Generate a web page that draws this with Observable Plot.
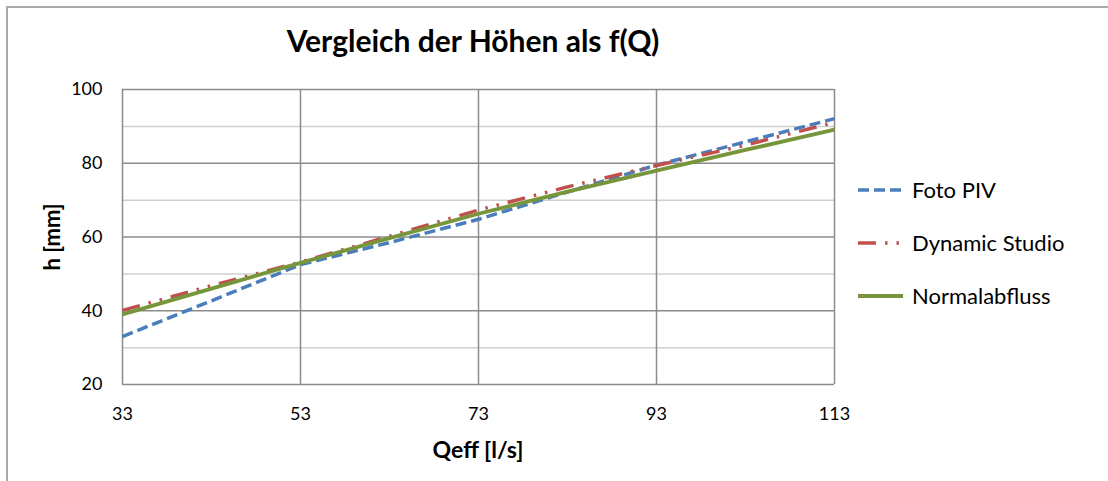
<!DOCTYPE html>
<html>
<head>
<meta charset="utf-8">
<script src="https://cdn.jsdelivr.net/npm/d3@7"></script>
<script src="https://cdn.jsdelivr.net/npm/@observablehq/plot@0.6"></script>
<style>
  html, body { margin: 0; padding: 0; background: #fff; }
  #chart { position: relative; width: 1108px; height: 481px; overflow: hidden; font-family: Lato, "Open Sans", sans-serif; color: #000; }
  #frame { position: absolute; left: 6px; top: 6px; width: 1200px; height: 600px; border-top: 2px solid #a9a9a9; border-left: 2px solid #a9a9a9; }
  #plot { position: absolute; left: 0; top: 0; }
  .title { position: absolute; left: 0; width: 946px; top: 22px; text-align: center; font-weight: bold; font-size: 30px; line-height: 36px; }
  .xlabel { position: absolute; left: 122px; width: 712px; top: 435px; text-align: center; font-weight: bold; font-size: 23px; line-height: 28px; }
  .ylabel { position: absolute; left: 51px; top: 237px; transform: translate(-50%, -50%) rotate(-90deg); font-weight: bold; font-size: 22px; white-space: nowrap; }
  .legend { position: absolute; left: 858px; top: 163px; }
  .legend .item { display: flex; align-items: center; height: 53px; font-size: 22px; }
  .legend .item svg { margin-right: 9px; }
</style>
</head>
<body>
<div id="chart">
  <div id="frame"></div>
  <div id="plot"></div>
  <div class="title">Vergleich der Höhen als f(Q)</div>
  <div class="ylabel">h [mm]</div>
  <div class="xlabel">Qeff [l/s]</div>
  <div class="legend" id="legend"></div>
</div>
<script>
// Effective discharge Q [l/s]
const q = [33, 43, 53, 63, 73, 83, 93, 103, 113];

// Water depth h [mm] per method
const fotoPIV       = [33.0, 42.7, 52.5, 58.5, 64.8, 72.2, 79.5, 85.8, 92.1];
const dynamicStudio = [40.1, 46.8, 53.2, 60.2, 67.3, 73.6, 79.4, 84.9, 91.1];
const normalabfluss = [39.0, 46.0, 53.0, 59.7, 66.3, 72.3, 78.0, 83.6, 89.1];

const seriesNames = ["Foto PIV", "Dynamic Studio", "Normalabfluss"];
const seriesValues = [fotoPIV, dynamicStudio, normalabfluss];

// Axis ticks and grid
const xTicks = [33, 53, 73, 93, 113];
const yTicks = [20, 40, 60, 80, 100];
const yMinor = [30, 50, 70, 90];

const styles = {
  "Foto PIV":       { stroke: "#4a7ebb", width: 3.5, dash: "11,5" },
  "Dynamic Studio": { stroke: "#c0504d", width: 3.5, dash: "18,9,2.5,9,2.5,9" },
  "Normalabfluss":  { stroke: "#77963c", width: 3.8, dash: null }
};

const rows = seriesNames.flatMap((name, i) =>
  q.map((x, j) => ({ series: name, q: x, h: seriesValues[i][j] }))
);

const lineMarks = seriesNames.map(name =>
  Plot.line(rows.filter(d => d.series === name), {
    x: "q", y: "h",
    stroke: styles[name].stroke,
    strokeWidth: styles[name].width,
    strokeDasharray: styles[name].dash,
    strokeLinecap: "butt",
    strokeLinejoin: "round"
  })
);

const plot = Plot.plot({
  width: 1108,
  height: 481,
  marginLeft: 122,
  marginRight: 274,
  marginTop: 89,
  marginBottom: 97,
  style: { fontFamily: "Lato, 'Open Sans', sans-serif", fontSize: "18px", color: "#000", background: "transparent" },
  x: { domain: [33, 113], ticks: xTicks, tickSize: 0, tickPadding: 23, label: null },
  y: { domain: [20, 100], ticks: yTicks, tickSize: 0, tickPadding: 20, label: null },
  marks: [
    Plot.ruleY(yMinor, { stroke: "#d0d0d0", strokeWidth: 1.5 }),
    Plot.ruleY(yTicks, { stroke: "#8c8c8c", strokeWidth: 1.5 }),
    Plot.ruleX(xTicks, { stroke: "#8c8c8c", strokeWidth: 1.5 }),
    ...lineMarks
  ]
});
document.getElementById("plot").appendChild(plot);

// Legend
const legend = d3.select("#legend");
seriesNames.forEach(name => {
  const s = styles[name];
  const item = legend.append("div").attr("class", "item");
  const svg = item.append("svg").attr("width", 45).attr("height", 8);
  svg.append("line")
    .attr("x1", 0).attr("x2", 45).attr("y1", 4).attr("y2", 4)
    .attr("stroke", s.stroke).attr("stroke-width", s.width)
    .attr("stroke-dasharray", s.dash);
  item.append("span").text(name);
});
</script>
</body>
</html>
